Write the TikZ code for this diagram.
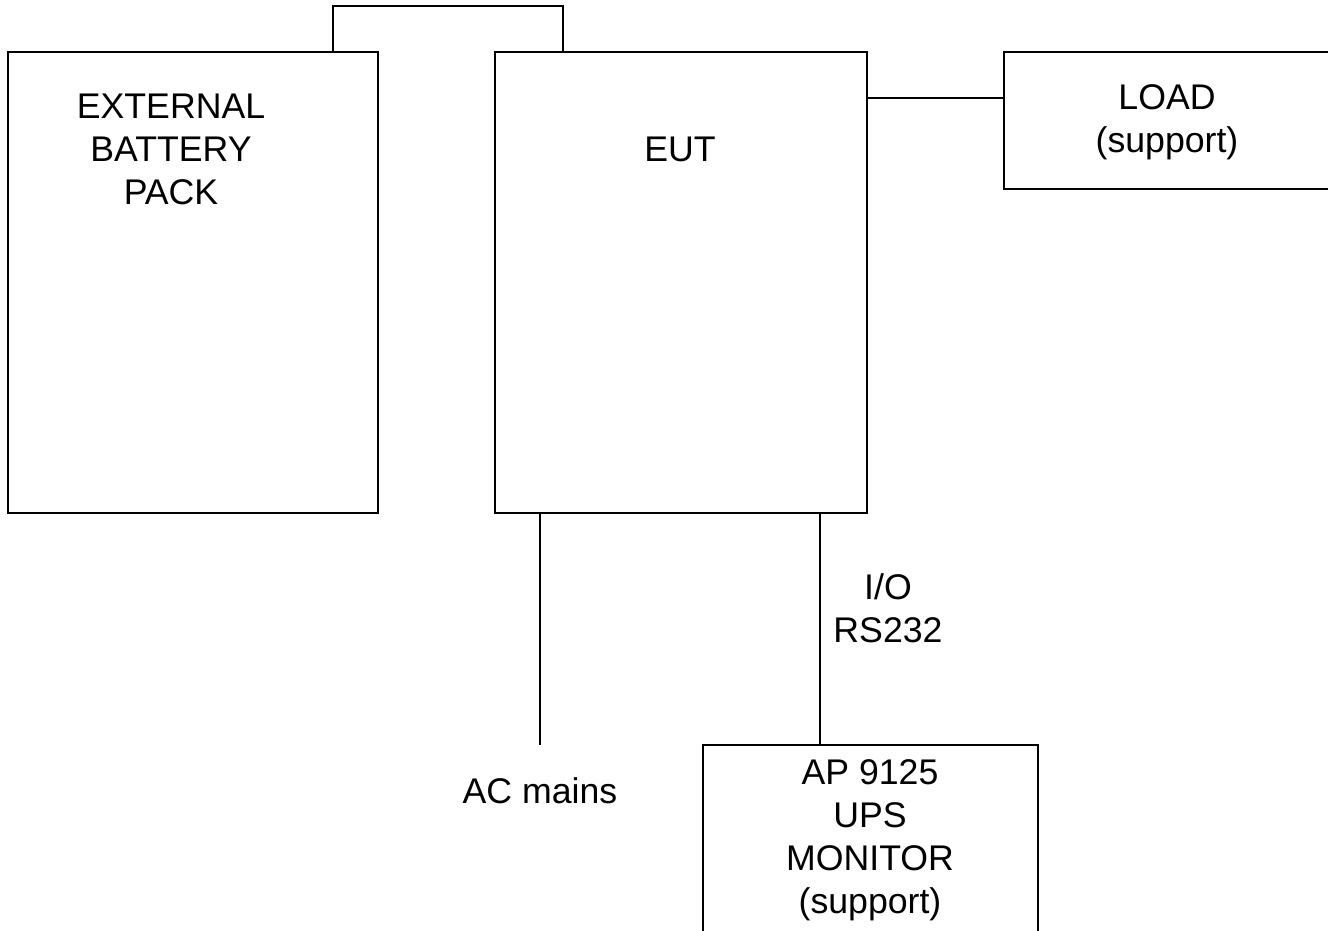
\documentclass[tikz,border=0pt]{standalone}
\usepackage{fontspec}
\setmainfont{Liberation Sans}
\usetikzlibrary{positioning}

\begin{document}
\begin{tikzpicture}[x=0.02cm,y=-0.02cm,line width=0.8pt,
    unitbox/.style={draw,rectangle,inner sep=0pt,outer sep=0pt},
    caption/.style={align=center,inner sep=0pt,font=\fontsize{20.3}{24.5}\selectfont}]
    \useasboundingbox (0,0) rectangle (1328,930);
    % boxes
    \node[unitbox,minimum width=7.4cm,minimum height=9.22cm] (battery) at (193,282.5) {};
    \node[unitbox,minimum width=7.44cm,minimum height=9.22cm] (eut) at (681,282.5) {};
    \node[unitbox,minimum width=6.72cm,minimum height=2.74cm] (load) at (1172,120.5) {};
    \node[unitbox,minimum width=6.7cm,minimum height=3.9cm] (monitor) at (870.5,842.5) {};
    % texts
    \node[caption] (batterytext) at (171,149) {EXTERNAL\\BATTERY\\PACK};
    \node[caption] (euttext) at (680,149) {EUT};
    \node[caption] (loadtext) at (1167,122) {LOAD\\(support)};
    \node[caption] (monitortext) at (870,840) {AP 9125\\UPS\\MONITOR\\(support)};
    \node[caption] (iotext) at (888,608) {I/O\\RS232};
    \node[caption] (mainstext) at (540,791) {AC mains};
    % connectors
    \coordinate (bt) at (333,6);
    \coordinate (et) at (563,6);
    \coordinate (ac) at (540,745);
    \coordinate (io) at (820,0);
    \draw (battery.north -| bt) |- (et) -- (eut.north -| et);
    \draw (eut.north east) ++(0,46) coordinate (lt) -- (lt -| load.west);
    \draw (eut.south -| ac) -- (ac);
    \draw (eut.south -| io) -- (monitor.north -| io);
\end{tikzpicture}
\end{document}
